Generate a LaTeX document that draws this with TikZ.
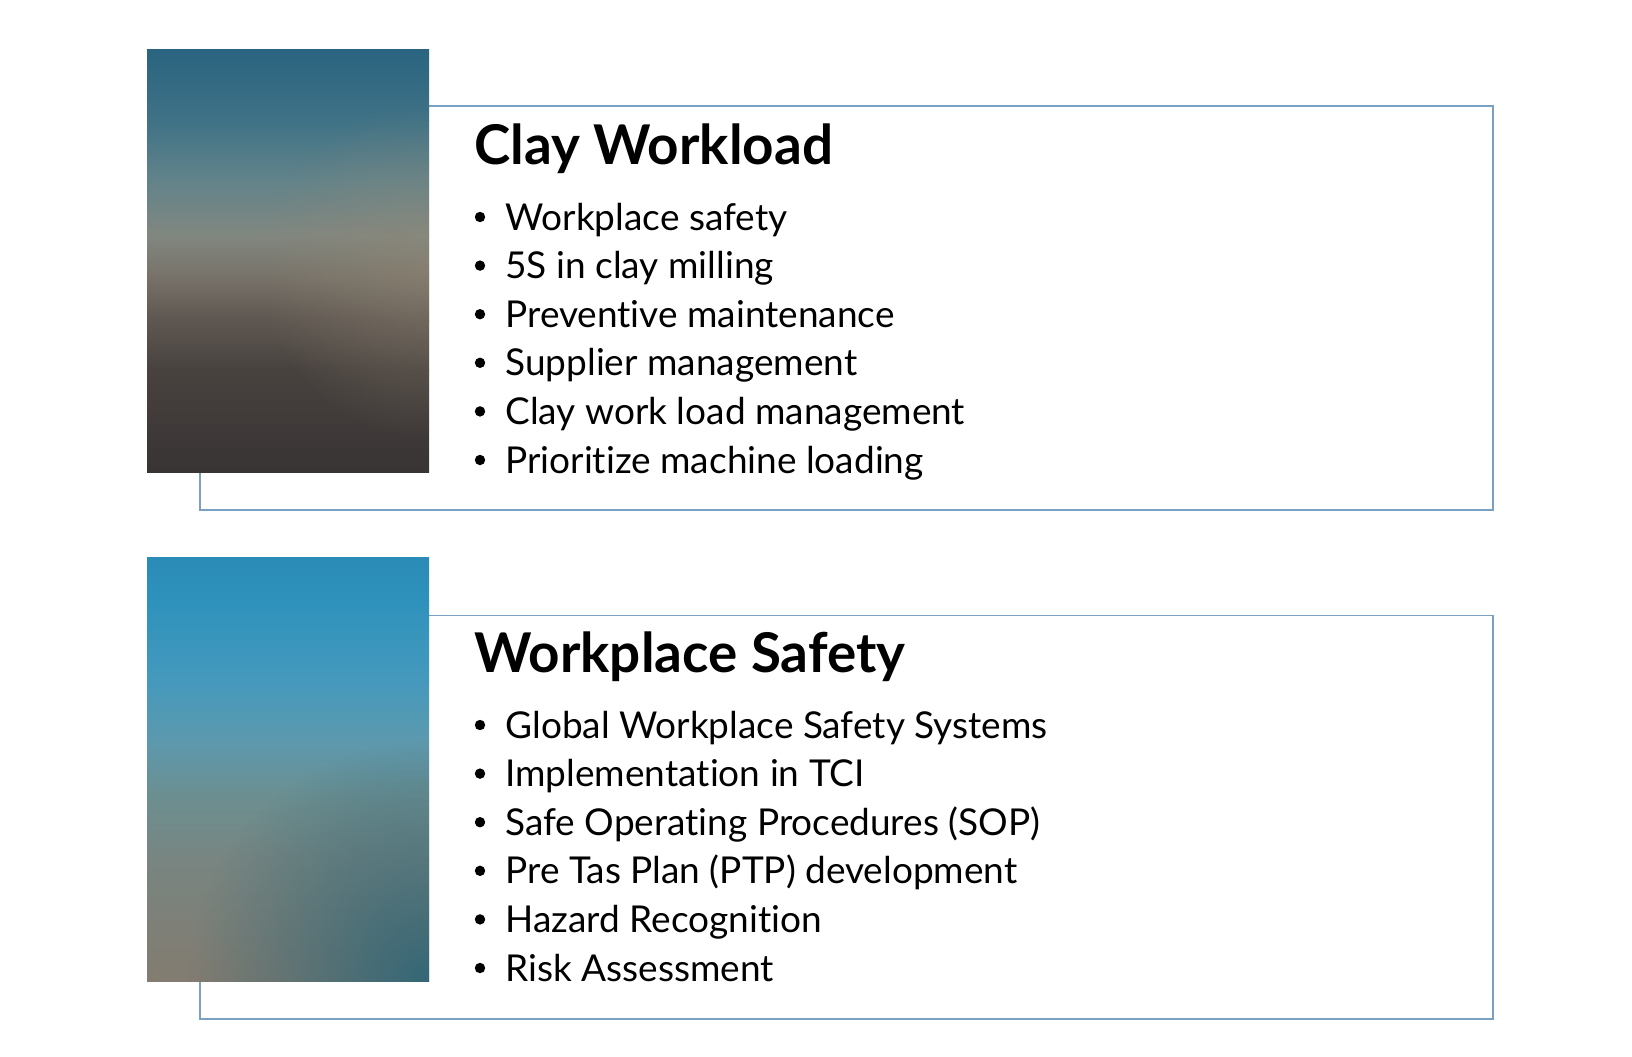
\documentclass[tikz,border=0pt]{standalone}
\usepackage{fontspec}
\setmainfont[Ligatures=NoCommon]{Lato}
\usetikzlibrary{fadings}

\definecolor{framecol}{HTML}{7AA0C2}
\definecolor{claytan}{HTML}{958A76}
\definecolor{safeteal}{HTML}{2C6577}

\tikzfading[name=fade out, inner color=transparent!0, outer color=transparent!100]

\begin{document}
\begin{tikzpicture}[x=0.5pt, y=-0.5pt,
	heading/.style={anchor=base west, inner sep=0pt, font=\bfseries\fontsize{27.4}{33}\selectfont},
	item/.style={anchor=base west, inner sep=0pt, font=\fontsize{18.5}{22}\selectfont},
	frame/.style={draw=framecol, line width=0.7pt}]
	\useasboundingbox[fill=white] (0,0) rectangle (1632,1056);

	% clay workload panel
	\draw[frame] (200,106) rectangle (1493,510);
	\foreach \ya/\ca/\yb/\cb in {49/2A6480/120/3F7286, 120/3F7286/180/62838A, 180/62838A/235/818780,
			235/818780/275/78736A, 275/78736A/320/5E5751, 320/5E5751/370/48423F, 370/48423F/472/383434} {
		\definecolor{ctop}{HTML}{\ca}
		\definecolor{cbot}{HTML}{\cb}
		\shade[top color=ctop, bottom color=cbot] (147,\ya) rectangle (429,\yb);
	}
	\begin{scope}
		\clip (147,49) rectangle (429,472);
		\fill[claytan, opacity=0.45, path fading=fade out] (429,270) circle (170);
	\end{scope}
	\node[heading] (clay) at (474,164) {Clay Workload};
	\foreach \txt [count=\i] in {Workplace safety, 5S in clay milling, Preventive maintenance,
			Supplier management, Clay work load management, Prioritize machine loading} {
		\node[item] (clay\i) at (505,{230+48.6*(\i-1)}) {\txt};
		\fill ([xshift=-12.5pt, yshift=6.5pt]clay\i.base west) circle (2.6pt);
	}

	% workplace safety panel
	\draw[frame] (200,615.3) rectangle (1493,1019);
	\foreach \ya/\ca/\yb/\cb in {557.7/2A8BB6/600/2E92BC, 600/2E92BC/680/4599BD, 680/4599BD/740/5C99AE,
			740/5C99AE/800/6D8E8F, 800/6D8E8F/860/788581, 860/788581/981/837C70} {
		\definecolor{ctop}{HTML}{\ca}
		\definecolor{cbot}{HTML}{\cb}
		\shade[top color=ctop, bottom color=cbot] (147,\ya) rectangle (429,\yb);
	}
	\begin{scope}
		\clip (147,557.7) rectangle (429,981);
		\fill[safeteal, opacity=0.9, path fading=fade out] (429,981) circle (240);
	\end{scope}
	\node[heading] (safe) at (474,672.7) {Workplace Safety};
	\foreach \txt [count=\i] in {Global Workplace Safety Systems, Implementation in TCI,
			Safe Operating Procedures (SOP), Pre Tas Plan (PTP) development, Hazard Recognition, Risk Assessment} {
		\node[item] (safe\i) at (505,{738+48.6*(\i-1)}) {\txt};
		\fill ([xshift=-12.5pt, yshift=6.5pt]safe\i.base west) circle (2.6pt);
	}
\end{tikzpicture}
\end{document}
